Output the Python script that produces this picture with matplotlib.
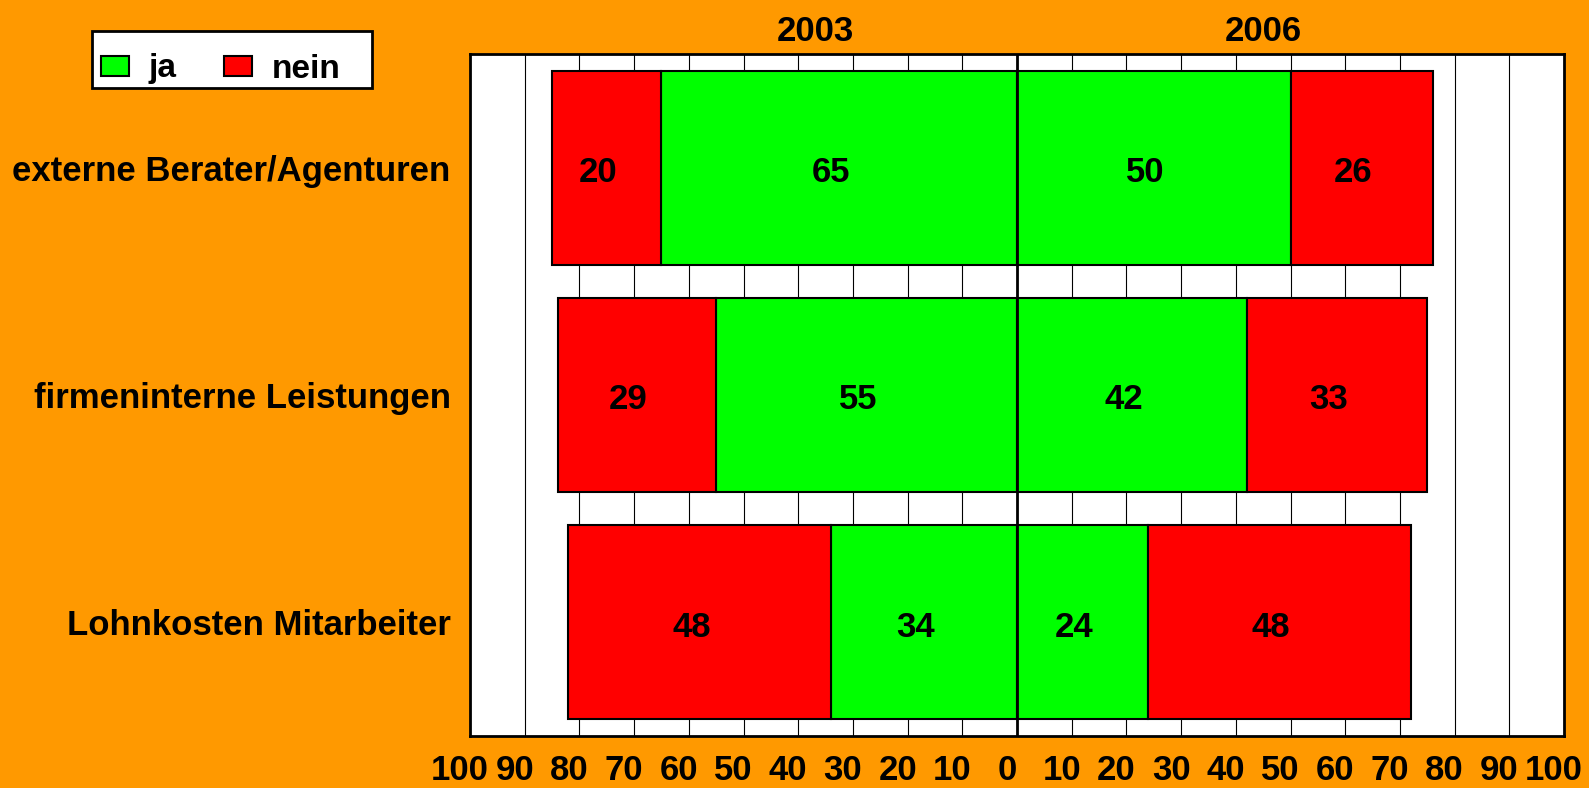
import matplotlib
matplotlib.use("Agg")
import matplotlib.pyplot as plt
from matplotlib.patches import Patch, Rectangle
from matplotlib.transforms import ScaledTranslation
from matplotlib import font_manager

categories = ["externe Berater/Agenturen", "firmeninterne Leistungen", "Lohnkosten Mitarbeiter"]
ja_2003 = [65, 55, 34]
nein_2003 = [20, 29, 48]
ja_2006 = [50, 42, 24]
nein_2006 = [26, 33, 48]
ticks = list(range(-100, 101, 10))
tick_labels = [str(abs(t)) for t in ticks]
years = ["2003", "2006"]
year_x = [-36.8, 45]

fams = {f.name for f in font_manager.fontManager.ttflist}
font = "Liberation Sans" if "Liberation Sans" in fams else "DejaVu Sans"
plt.rcParams['font.family'] = [font, 'DejaVu Sans']
plt.rcParams['font.weight'] = 'bold'

ORANGE = "#FF9900"
GREEN = "#00FF00"
RED = "#FF0000"
W, H = 1589, 788

fig = plt.figure(figsize=(15.89, 7.88), dpi=100, facecolor=ORANGE)
ax = fig.add_axes([0.2958, 0.066, 0.6885, 0.8655])
ax.set_facecolor("white")

y = list(range(len(categories)))
h = 0.853
for t in ticks[1:-1]:
    if t != 0:
        ax.axvline(t, color="black", lw=0.8, zorder=0)

ax.barh(y, [-v for v in ja_2003], height=h, color=GREEN, edgecolor="black", lw=1.5, zorder=2)
ax.barh(y, [-v for v in nein_2003], left=[-v for v in ja_2003], height=h, color=RED, edgecolor="black", lw=1.5, zorder=2)
ax.barh(y, ja_2006, height=h, color=GREEN, edgecolor="black", lw=1.5, zorder=2)
ax.barh(y, nein_2006, left=ja_2006, height=h, color=RED, edgecolor="black", lw=1.5, zorder=2)
ax.axvline(0, color="black", lw=2, zorder=3)

fs = 25
def lab(xv, yv, s):
    ax.annotate(s, xy=(xv, yv), xytext=(-6, -3.6), textcoords="offset points",
                ha="center", va="center", fontsize=fs, fontweight="bold", zorder=4)

for i in y:
    lab(-ja_2003[i] / 2, i, str(ja_2003[i]))
    lab(-ja_2003[i] - nein_2003[i] / 2, i, str(nein_2003[i]))
    lab(ja_2006[i] / 2, i, str(ja_2006[i]))
    lab(ja_2006[i] + nein_2006[i] / 2, i, str(nein_2006[i]))

ax.set_xlim(-100, 100)
ax.set_ylim(len(categories) - 0.5, -0.5)
ax.set_yticks(y)
ax.set_yticklabels(categories, fontsize=25, fontweight="bold")
ax.set_xticks(ticks)
ax.set_xticklabels(tick_labels, fontsize=25, fontweight="bold")
ax.tick_params(axis="x", length=0, pad=13)
ax.tick_params(axis="y", length=0, pad=14)
shift = ScaledTranslation(-0.10, 0, fig.dpi_scale_trans)
for tl in ax.xaxis.get_majorticklabels():
    tl.set_transform(tl.get_transform() + shift)
for s in ax.spines.values():
    s.set_linewidth(2)
    s.set_color("black")

for yr, xv in zip(years, year_x):
    ax.annotate(yr, xy=(xv, -0.5), xytext=(0, 9.5), textcoords="offset points",
                ha="center", va="baseline", fontsize=25, fontweight="bold")

# legend frame
fig.patches.append(Rectangle((92 / W, 1 - 88 / H), (372 - 92) / W, (88 - 31) / H,
                             transform=fig.transFigure, facecolor="white", edgecolor="black",
                             lw=2, zorder=1))
handles = [Patch(facecolor=GREEN, edgecolor="black", lw=1.5, label="ja"),
           Patch(facecolor=RED, edgecolor="black", lw=1.5, label="nein")]
leg = fig.legend(handles=handles, ncol=2, loc="center left",
                 bbox_to_anchor=(101 / W, 1 - 69 / H),
                 frameon=False, prop={"family": font, "weight": "bold", "size": 24},
                 handlelength=0.84, handleheight=0.54, columnspacing=1.41,
                 borderpad=0, handletextpad=0.6, borderaxespad=0)
leg.set_zorder(2)

fig.savefig("out.png", dpi=100, facecolor=ORANGE)
